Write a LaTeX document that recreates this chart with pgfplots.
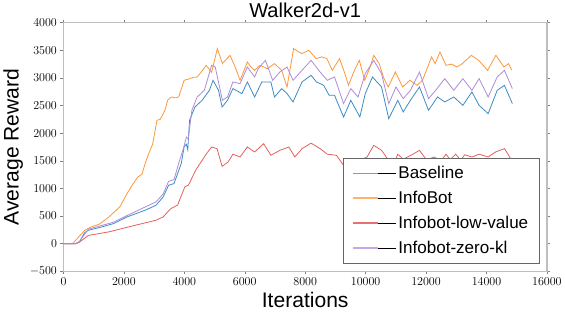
\documentclass[border=0pt]{standalone}
\usepackage{fontspec}
\setmainfont{Liberation Sans}
\usepackage{pgfplots}
\pgfplotsset{compat=1.18}
\definecolor{cBlue}{RGB}{60,140,196}
\definecolor{cOrange}{RGB}{255,150,55}
\definecolor{cRed}{RGB}{228,95,95}
\definecolor{cPurple}{RGB}{175,140,215}
\definecolor{lBlue}{RGB}{95,165,220}
\definecolor{lOrange}{RGB}{255,178,110}
\definecolor{lRed}{RGB}{232,112,112}
\definecolor{lPurple}{RGB}{195,170,230}
\definecolor{spine}{RGB}{190,190,190}
\begin{document}
\begin{tikzpicture}
\begin{axis}[
  scale only axis, width=482pt, height=248pt,
  xmin=0, xmax=16000, ymin=-500, ymax=4000,
  xtick={0,2000,...,16000}, ytick={-500,0,...,4000},
  /pgf/number format/1000 sep={},
  scaled ticks=false,
  tick align=outside, major tick length=3pt,
  axis line style={spine, line width=1.2pt},
  tick style={gray, line width=0.5pt},
  tick label style={font=\fontsize{13}{13}\selectfont},
  title={Walker2d-v1}, title style={font=\fontsize{20}{20}\selectfont, yshift=-5pt},
  xlabel={Iterations}, ylabel={Average Reward},
  label style={font=\fontsize{21}{21}\selectfont},
  legend cell align=left,
  legend style={at={(0.985,0.032)}, anchor=south east, draw=gray!80!black, line width=0.8pt,
    font=\fontsize{17}{19}\selectfont, row sep=7pt, inner xsep=9pt, inner ysep=6pt},
  every axis plot/.append style={line width=0.8pt},
]
\addlegendimage{legend image code/.code={\path (0pt,0pt) -- (43pt,0pt); \draw[draw=lBlue, line width=1.6pt] (0pt,0pt) -- (25pt,0pt);}}
\addlegendentry{Baseline}
\addlegendimage{legend image code/.code={\path (0pt,0pt) -- (43pt,0pt); \draw[draw=lOrange, line width=1.6pt] (0pt,0pt) -- (25pt,0pt);}}
\addlegendentry{InfoBot}
\addlegendimage{legend image code/.code={\path (0pt,0pt) -- (43pt,0pt); \draw[draw=lRed, line width=1.6pt] (0pt,0pt) -- (25pt,0pt);}}
\addlegendentry{Infobot-low-value}
\addlegendimage{legend image code/.code={\path (0pt,0pt) -- (43pt,0pt); \draw[draw=lPurple, line width=1.6pt] (0pt,0pt) -- (25pt,0pt);}}
\addlegendentry{Infobot-zero-kl}
\addplot[cBlue, forget plot] coordinates {
(0,0)(400,0)(527,30)(700,200)(825,244)(1184,292)(1662,365)(2104,485)(2702,606)(3061,696)
(3300,847)(3480,1058)(3659,1088)(3778,1269)(3898,1450)(3993,1750)(4068,1800)(4113,1700)
(4173,2233)(4352,2474)(4591,2595)(4830,2776)(4950,2957)(5130,2776)(5250,2474)(5429,2595)
(5608,2806)(5907,2716)(6086,2927)(6326,2655)(6565,2927)(6864,2927)(6984,2655)(7224,2806)
(7400,2716)(7596,2565)(7895,2927)(8194,3047)(8373,2927)(8612,2866)(8792,2685)(8971,2685)
(9270,2293)(9509,2595)(9809,2293)(9988,2716)(10227,3017)(10526,2836)(10766,2263)(11065,2595)
(11244,2384)(11483,2595)(11782,2836)(12081,2414)(12380,2655)(12619,2565)(12918,2655)
(13218,2504)(13517,2746)(13756,2504)(14055,2354)(14354,2776)(14593,2866)(14713,2716)(14856,2535)
};
\addplot[cOrange, forget plot] coordinates {
(0,0)(300,0)(500,120)(706,244)(900,300)(1184,353)(1506,485)(1865,666)(2104,907)(2300,1080)
(2463,1208)(2600,1260)(2702,1450)(2822,1631)(2950,1800)(3096,2233)(3200,2250)(3350,2400)
(3450,2600)(3575,2655)(3700,2640)(3814,2655)(3900,2800)(3993,2957)(4150,2980)(4300,3010)
(4424,3016)(4550,3100)(4723,3228)(4903,3100)(5093,3530)(5260,3260)(5512,3409)(5680,3200)
(5846,2957)(6086,3288)(6200,3200)(6326,3137)(6505,3228)(6745,3167)(6984,3258)(7224,3137)
(7300,3000)(7400,2836)(7616,3530)(7880,3439)(8119,3499)(8359,3349)(8550,3380)(8717,3349)
(8897,3137)(9136,3349)(9300,3100)(9433,2866)(9600,3100)(9791,3318)(9970,2957)(10150,3200)
(10269,3409)(10448,3258)(10600,3000)(10747,2836)(10986,3107)(11226,2836)(11465,2957)
(11704,2866)(11883,2957)(12182,3379)(12302,3258)(12458,3469)(12661,3228)(12850,3250)
(13020,3197)(13200,3258)(13499,3409)(13738,3318)(14037,3137)(14312,3409)(14575,3197)
(14730,3258)(14838,3137)
};
\addplot[cRed, forget plot] coordinates {
(0,0)(400,0)(527,30)(825,150)(1506,215)(2343,330)(3061,425)(3300,485)(3539,630)(3778,700)
(4018,1030)(4137,1060)(4376,1330)(4555,1480)(4735,1630)(4903,1750)(5082,1720)(5250,1400)
(5450,1480)(5608,1620)(5846,1570)(6086,1750)(6326,1660)(6625,1810)(6864,1600)(7163,1690)
(7460,1750)(7656,1570)(7895,1720)(8194,1820)(8493,1720)(8732,1620)(9032,1600)(9270,1420)
(9509,1540)(9809,1510)(10048,1570)(10269,1780)(10526,1690)(10646,1600)(10886,1390)
(11065,1620)(11244,1530)(11500,1600)(11782,1690)(12021,1510)(12260,1570)(12500,1500)
(12661,1620)(12800,1520)(12978,1620)(13150,1510)(13277,1610)(13517,1570)(13756,1620)
(14055,1570)(14300,1660)(14593,1720)(14713,1620)(14830,1500)
};
\addplot[cPurple, forget plot] coordinates {
(0,0)(400,0)(527,40)(825,265)(1662,390)(2104,510)(3061,756)(3300,900)(3480,1130)(3659,1160)
(3838,1500)(3958,1700)(4068,1930)(4130,1900)(4250,2414)(4424,2655)(4663,2776)(4903,3228)
(5023,3197)(5260,2595)(5429,2655)(5608,2927)(5846,2897)(6086,3197)(6326,3017)(6445,3167)
(6685,3318)(6924,2957)(7163,3107)(7400,3197)(7596,2957)(7895,3137)(8194,3318)(8493,3107)
(8732,2957)(8971,3017)(9270,2535)(9509,2806)(9749,2655)(9988,3077)(10269,3318)(10526,3077)
(10766,2535)(11005,2836)(11244,2625)(11483,2776)(11782,3107)(12081,2625)(12320,2776)
(12619,2987)(12918,2776)(13218,2987)(13517,2776)(13756,2987)(14055,2655)(14354,3017)
(14593,3137)(14856,2806)
};
\end{axis}
\end{tikzpicture}
\end{document}
